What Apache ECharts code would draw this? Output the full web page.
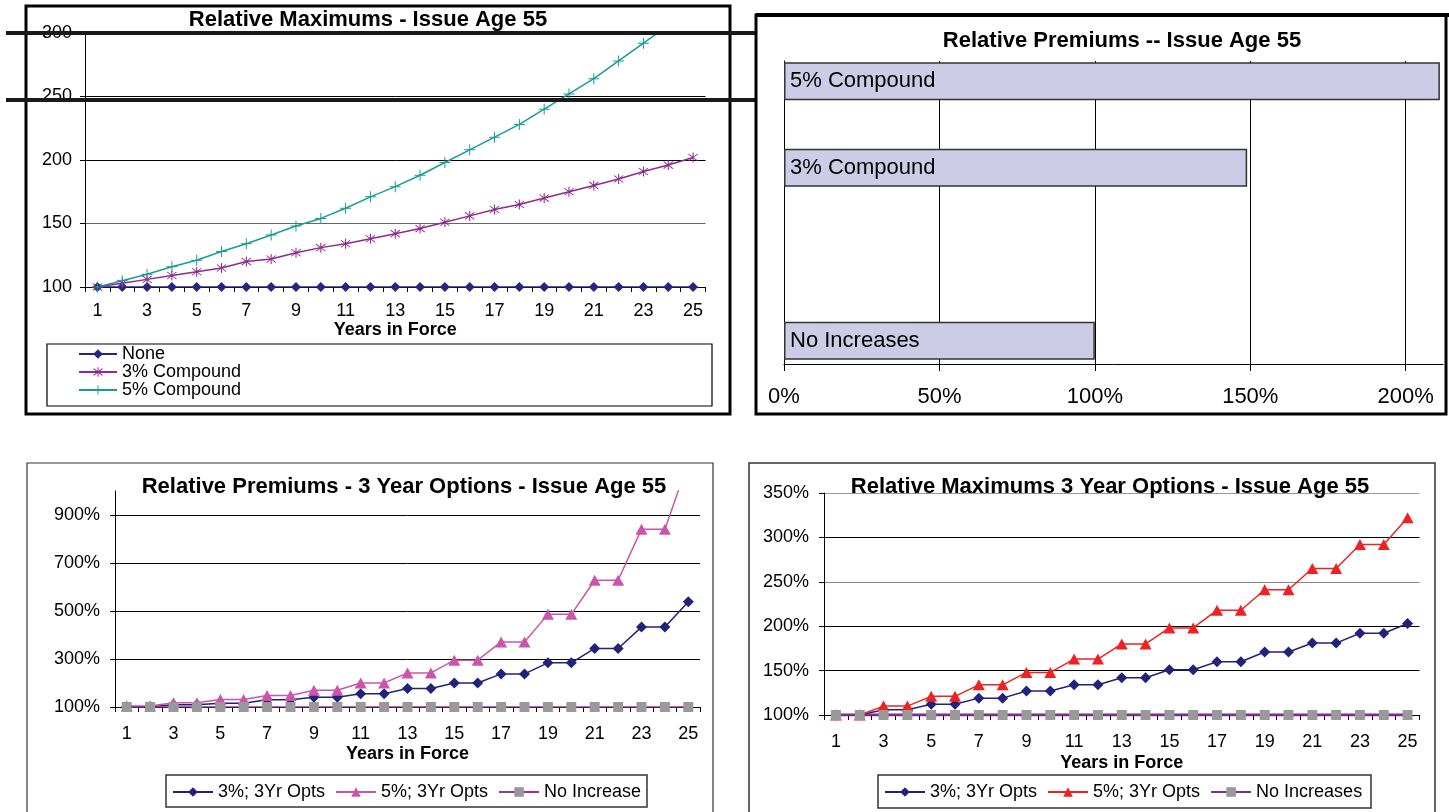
<!DOCTYPE html>
<html><head><meta charset="utf-8">
<script src="https://cdn.jsdelivr.net/npm/echarts@6/dist/echarts.min.js"></script>
<style>
html,body{margin:0;padding:0;background:#fff;}
.ch{position:absolute;left:0;top:0;width:1449px;height:812px;}
</style>
</head><body>
<div id="c1" class="ch"></div><div id="c2" class="ch"></div><div id="c3" class="ch"></div><div id="c4" class="ch"></div>
<script>
// ---- data ----
const years = ['1','2','3','4','5','6','7','8','9','10','11','12','13','14','15','16','17','18','19','20','21','22','23','24','25'];
// Panel 1: Relative Maximums - Issue Age 55
const maxNone = [100,100,100,100,100,100,100,100,100,100,100,100,100,100,100,100,100,100,100,100,100,100,100,100,100];
const max3 = [100,103,106,109,112,115,120,122,127,131,134,138,142,146,151,156,161,165,170,175,180,185,191,196,202];
const max5 = [100,105,110,116,121,128,134,141,148,154,162,171,179,188,198,208,218,228,240,252,264,278,292,306,322];
// Panel 2: Relative Premiums -- Issue Age 55
const premCats = ['No Increases', '', '3% Compound', '5% Compound'];
const premVals = [100, null, 149, 211];
// Panel 3: Relative Premiums - 3 Year Options
const prem3yr3 = [101,101,109,109,116,116,130,130,141,141,155,155,177,177,200,200,238,238,284,284,344,344,433,433,539];
const prem3yr5 = [104,104,118,118,131,131,148,148,170,170,200,200,242,242,295,295,371,371,486,486,628,628,841,841,1120];
const prem3yrNone = [100,100,100,100,100,100,100,100,100,100,100,100,100,100,100,100,100,100,100,100,100,100,100,100,100];
// Panel 4: Relative Maximums 3 Year Options
const max3yr3 = [100,100,106,106,112,112,119,119,127,127,134,134,142,142,151,151,160,160,171,171,181,181,192,192,203];
const max3yr5 = [100,100,110,110,121,121,134,134,148,148,163,163,180,180,198,198,218,218,241,241,265,265,292,292,322];
const max3yrNone = [100,100,100,100,100,100,100,100,100,100,100,100,100,100,100,100,100,100,100,100,100,100,100,100,100];

// ---- styling ----
const FF = "'Liberation Sans', Arial, sans-serif";
const asterisk = 'path://M-0.8,-10L0.8,-10L0.8,10L-0.8,10Z M-7.6,-6.5L-6.5,-7.6L7.6,6.5L6.5,7.6Z M6.5,-7.6L7.6,-6.5L-6.5,7.6L-7.6,6.5Z';
const plus = 'path://M-0.9,-10L0.9,-10L0.9,10L-0.9,10Z M-10,-0.9L10,-0.9L10,0.9L-10,0.9Z';
const txt = {color:'#000', fontFamily:FF};

function title(text, cx, top){
  return {text:text, left:cx, top:top, textAlign:'center', padding:0,
    textStyle:{fontSize:22, fontWeight:'bold', color:'#000', fontFamily:FF}};
}
function catX(nameGap, margin){
  return {type:'category', data:years, boundaryGap:true,
    axisLine:{lineStyle:{color:'#000', width:1}},
    axisTick:{show:true, interval:0, length:5, lineStyle:{color:'#000'}},
    axisLabel:Object.assign({interval:1, fontSize:18, margin:margin}, txt),
    name:'Years in Force', nameLocation:'middle', nameGap:nameGap,
    nameTextStyle:Object.assign({fontSize:18, fontWeight:'bold'}, txt),
    splitLine:{show:false}};
}
function lineS(name, data, color, symbol, size, width, symColor){
  return {type:'line', name:name, data:data, symbol:symbol, symbolSize:size,
    showSymbol:true, animation:false,
    lineStyle:{color:color, width:width},
    itemStyle:{color:symColor||color, borderWidth:0}};
}

// ---- Panel 1 ----
const c1 = echarts.init(document.getElementById('c1'), null, {renderer:'canvas'});
c1.setOption({
  animation:false,
  title:[title('Relative Maximums - Issue Age 55', 368, 9)],
  grid:{left:85, top:33, width:620.5, height:254},
  xAxis:catX(34, 15),
  yAxis:{type:'value', min:100, max:300, interval:50,
    axisLine:{show:true, lineStyle:{color:'#000'}},
    axisTick:{show:true, length:5, lineStyle:{color:'#000'}},
    axisLabel:Object.assign({fontSize:18, margin:13}, txt),
    splitLine:{lineStyle:{color:['#000','#666','#000','#000','#000'], width:1}}},
  legend:{orient:'vertical', left:78, top:345, padding:0, itemGap:0, itemWidth:38, itemHeight:12,
    textStyle:Object.assign({fontSize:18}, txt),
    data:['None','3% Compound','5% Compound']},
  series:[
    lineS('None', maxNone, '#262680', 'diamond', [10,10], 1.5),
    lineS('3% Compound', max3, '#8E2A8E', asterisk, 10, 1.5),
    lineS('5% Compound', max5, '#1A9A9A', plus, 11, 1.5)
  ],
  graphic:[
    {type:'rect', shape:{x:26, y:6, width:704, height:408}, style:{fill:'none', stroke:'#000', lineWidth:3}, z:100},
    {type:'rect', shape:{x:47, y:344, width:665, height:62}, style:{fill:'none', stroke:'#000', lineWidth:1.2}, z:100},
    {type:'line', shape:{x1:6, y1:33, x2:756, y2:33}, style:{stroke:'#1a1a1a', lineWidth:4}, z:100},
    {type:'line', shape:{x1:6, y1:100, x2:756, y2:100}, style:{stroke:'#1a1a1a', lineWidth:4}, z:100}
  ]
});

// ---- Panel 2 ----
const c2 = echarts.init(document.getElementById('c2'), null, {renderer:'canvas'});
c2.setOption({
  animation:false,
  title:[title('Relative Premiums -- Issue Age 55', 1122, 30)],
  grid:[{left:784, top:61, width:659, height:303},
        {left:784, top:38, width:659, height:346}],
  xAxis:[
    {type:'value', gridIndex:0, min:0, max:212, interval:50,
      axisLine:{show:true, lineStyle:{color:'#000'}},
      axisTick:{show:true, length:7, lineStyle:{color:'#000'}},
      axisLabel:Object.assign({fontSize:22, margin:22, showMaxLabel:false, formatter:'{value}%'}, txt),
      splitLine:{show:true, showMinLine:false, showMaxLine:false, lineStyle:{color:'#000', width:1}}},
    {type:'value', gridIndex:1, min:0, max:212, show:false}
  ],
  yAxis:[
    {type:'value', gridIndex:0, min:0, max:1, axisLine:{show:true, lineStyle:{color:'#000'}},
      axisTick:{show:false}, axisLabel:{show:false}, splitLine:{show:false}},
    {type:'category', gridIndex:1, data:premCats, show:false}
  ],
  series:[{type:'bar', xAxisIndex:1, yAxisIndex:1, data:premVals, barWidth:38,
    itemStyle:{color:'#CCCCE6', borderColor:'#333', borderWidth:1.5},
    label:{show:true, position:'insideLeft', distance:6, formatter:'{b}', fontSize:22, color:'#000', fontFamily:FF}}],
  graphic:[
    {type:'rect', shape:{x:756, y:15, width:690, height:399}, style:{fill:'none', stroke:'#000', lineWidth:3}, z:100},
    {type:'line', shape:{x1:756, y1:15, x2:1449, y2:15}, style:{stroke:'#000', lineWidth:4}, z:100}
  ]
});

// ---- Panel 3 ----
const c3 = echarts.init(document.getElementById('c3'), null, {renderer:'canvas'});
c3.setOption({
  animation:false,
  title:[title('Relative Premiums - 3 Year Options - Issue Age 55', 404, 476)],
  grid:{left:115, top:491, width:585, height:216},
  xAxis:catX(38, 18),
  yAxis:{type:'value', min:100, max:1000, interval:200,
    axisLine:{show:true, lineStyle:{color:'#000'}},
    axisTick:{show:true, length:5, lineStyle:{color:'#000'}},
    axisLabel:Object.assign({fontSize:18, margin:15, showMaxLabel:false, formatter:'{value}%'}, txt),
    splitLine:{show:true, showMaxLine:false, lineStyle:{color:'#000', width:1}}},
  legend:{orient:'horizontal', left:172, top:783, padding:0, itemGap:10, itemWidth:40, itemHeight:12,
    textStyle:Object.assign({fontSize:18}, txt),
    data:['3%; 3Yr Opts','5%; 3Yr Opts','No Increase']},
  series:[
    lineS('3%; 3Yr Opts', prem3yr3, '#22227A', 'diamond', [11,11], 1.5),
    lineS('5%; 3Yr Opts', prem3yr5, '#CC55AA', 'triangle', [12,11], 1.5),
    lineS('No Increase', prem3yrNone, '#993399', 'rect', [10,10], 1.5, '#999999')
  ],
  graphic:[
    {type:'rect', shape:{x:27, y:463, width:686, height:370}, style:{fill:'none', stroke:'#333', lineWidth:1.2}, z:100},
    {type:'rect', shape:{x:166, y:775, width:481, height:32}, style:{fill:'none', stroke:'#333', lineWidth:1.5}, z:100}
  ]
});

// ---- Panel 4 ----
const c4 = echarts.init(document.getElementById('c4'), null, {renderer:'canvas'});
c4.setOption({
  animation:false,
  title:[title('Relative Maximums 3 Year Options - Issue Age 55', 1110, 476)],
  grid:{left:824, top:493, width:595.5, height:222},
  xAxis:catX(39, 18),
  yAxis:{type:'value', min:100, max:350, interval:50,
    axisLine:{show:true, lineStyle:{color:'#000'}},
    axisTick:{show:true, length:5, lineStyle:{color:'#000'}},
    axisLabel:Object.assign({fontSize:18, margin:15, formatter:'{value}%'}, txt),
    splitLine:{show:true, lineStyle:{color:['#000','#000','#000','#888','#000','#999'], width:1.2}}},
  legend:{orient:'horizontal', left:884, top:783, padding:0, itemGap:10, itemWidth:40, itemHeight:12,
    textStyle:Object.assign({fontSize:18}, txt),
    data:['3%; 3Yr Opts','5%; 3Yr Opts','No Increases']},
  series:[
    lineS('3%; 3Yr Opts', max3yr3, '#22227A', 'diamond', [11,11], 1.5),
    lineS('5%; 3Yr Opts', max3yr5, '#EE2222', 'triangle', [12,11], 1.5),
    lineS('No Increases', max3yrNone, '#7B2C8C', 'rect', [10,10], 3, '#999999')
  ],
  graphic:[
    {type:'rect', shape:{x:749, y:463, width:686, height:370}, style:{fill:'none', stroke:'#333', lineWidth:1.5}, z:100},
    {type:'rect', shape:{x:878, y:775, width:493, height:33}, style:{fill:'none', stroke:'#333', lineWidth:1.5}, z:100}
  ]
});
</script>
</body></html>
